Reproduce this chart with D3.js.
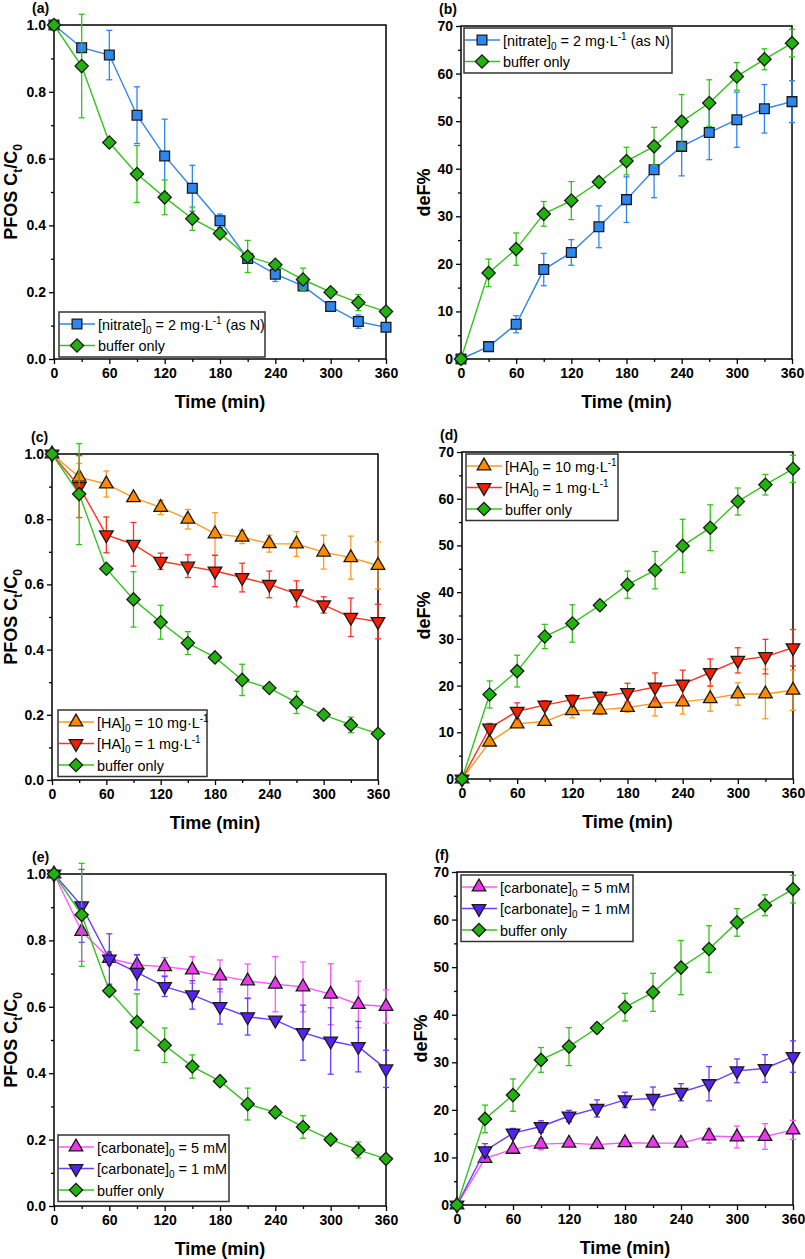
<!DOCTYPE html>
<html>
<head>
<meta charset="utf-8">
<script src="https://cdn.jsdelivr.net/npm/d3@7"></script>
<style>
  body { margin: 0; background: #fff; }
  svg { display: block; font-family: "Liberation Sans", Arial, sans-serif; }
  .tick text { font-weight: bold; font-size: 14px; }
</style>
</head>
<body>
<svg id="fig" width="805" height="1259"></svg>
<script>
// sampling times (min)
var times = [0, 30, 60, 90, 120, 150, 180, 210, 240, 270, 300, 330, 360];
var timeTicks = [0, 60, 120, 180, 240, 300, 360];
var ctTicks = [0, 0.2, 0.4, 0.6, 0.8, 1.0];
var defTicks = [0, 10, 20, 30, 40, 50, 60, 70];

// PFOS Ct/C0
var bufferCt = [1.0, 0.877, 0.648, 0.554, 0.484, 0.420, 0.376, 0.307, 0.282, 0.238, 0.200, 0.169, 0.142];
var bufferCtErr = [0, 0.155, 0.01, 0.085, 0.052, 0.035, 0.01, 0.048, 0.01, 0.034, 0.006, 0.024, 0.006];
var nitrateCt = [1.0, 0.932, 0.910, 0.730, 0.608, 0.511, 0.414, 0.301, 0.254, 0.219, 0.157, 0.112, 0.095];
var nitrateCtErr = [0, 0.01, 0.074, 0.085, 0.11, 0.069, 0.02, 0.01, 0.022, 0.015, 0.006, 0.02, 0.01];
var ha10Ct = [1.0, 0.929, 0.908, 0.866, 0.836, 0.800, 0.755, 0.745, 0.725, 0.724, 0.699, 0.682, 0.658];
var ha10CtErr = [0, 0.042, 0.04, 0.01, 0.022, 0.03, 0.065, 0.02, 0.026, 0.038, 0.052, 0.066, 0.072];
var ha1Ct = [1.0, 0.900, 0.752, 0.723, 0.671, 0.656, 0.641, 0.621, 0.600, 0.571, 0.537, 0.499, 0.486];
var ha1CtErr = [0, 0.095, 0.055, 0.067, 0.025, 0.035, 0.048, 0.044, 0.041, 0.04, 0.025, 0.059, 0.053];
var carb5Ct = [1.0, 0.827, 0.746, 0.726, 0.721, 0.711, 0.693, 0.678, 0.668, 0.660, 0.638, 0.607, 0.601];
var carb5CtErr = [0, 0.09, 0.02, 0.03, 0.027, 0.04, 0.048, 0.051, 0.083, 0.075, 0.092, 0.07, 0.05];
var carb1Ct = [1.0, 0.904, 0.744, 0.704, 0.661, 0.636, 0.601, 0.570, 0.560, 0.522, 0.497, 0.480, 0.413];
var carb1CtErr = [0, 0.11, 0.076, 0.053, 0.03, 0.043, 0.053, 0.055, 0.01, 0.083, 0.1, 0.076, 0.056];

// deF%
var bufferDeF = [0, 18.1, 23.1, 30.5, 33.3, 37.2, 41.6, 44.7, 49.9, 53.8, 59.4, 63.0, 66.4];
var bufferDeFErr = [0, 2.9, 3.4, 2.6, 4.0, 1.0, 2.9, 4.0, 5.7, 4.9, 2.9, 2.2, 2.9];
var nitrateDeF = [0, 2.6, 7.3, 18.8, 22.4, 27.8, 33.5, 39.8, 44.7, 47.6, 50.3, 52.6, 54.1];
var nitrateDeFErr = [0, 0.3, 1.8, 3.4, 2.7, 4.4, 4.8, 5.9, 6.2, 5.7, 5.8, 5.1, 4.4];
var ha10DeF = [0, 7.9, 11.8, 12.3, 14.6, 14.8, 15.3, 16.2, 16.5, 17.2, 18.2, 18.2, 19.0];
var ha10DeFErr = [0, 0.5, 0.7, 0.6, 1.5, 1.0, 1.0, 2.7, 2.6, 2.7, 2.4, 5.3, 4.3];
var ha1DeF = [0, 10.9, 14.5, 15.8, 17.0, 17.7, 18.5, 19.7, 20.3, 22.8, 25.4, 26.2, 28.1];
var ha1DeFErr = [0, 1.0, 1.8, 1.0, 1.0, 1.0, 2.0, 3.0, 3.0, 2.9, 2.7, 3.7, 3.9];
var carb5DeF = [0, 9.8, 11.7, 12.8, 13.0, 12.7, 13.1, 13.0, 13.0, 14.5, 14.3, 14.4, 15.8];
var carb5DeFErr = [0, 0.5, 0.6, 1.2, 0.6, 0.6, 0.6, 0.6, 0.6, 1.5, 2.3, 2.7, 2.0];
var carb1DeF = [0, 11.4, 15.1, 16.5, 18.7, 20.3, 22.1, 22.4, 23.7, 25.5, 28.2, 28.7, 31.2];
var carb1DeFErr = [0, 1.5, 1.0, 1.2, 1.2, 1.8, 1.6, 2.4, 1.8, 3.6, 2.5, 2.9, 3.3];

// legend labels
var nitrateLabel = ["[nitrate]", "0", " = 2 mg\u00b7L", "-1", " (as N)"];
var ha10Label = ["[HA]", "0", " = 10 mg\u00b7L", "-1"];
var ha1Label = ["[HA]", "0", " = 1 mg\u00b7L", "-1"];
var carb5Label = ["[carbonate]", "0", " = 5 mM"];
var carb1Label = ["[carbonate]", "0", " = 1 mM"];
var bufferLabel = ["buffer only"];

var styles = {
    nitrate: { line: "#2f86ee", fill: "#2f86ee", shape: "square" },
    buffer: { line: "#33c41a", fill: "#22b20f", shape: "diamond" },
    ha10: { line: "#ff9a1f", fill: "#ff8a00", shape: "up" },
    ha1: { line: "#ff3322", fill: "#ee2200", shape: "down" },
    carb5: { line: "#ff55ff", fill: "#e83ae8", shape: "up" },
    carb1: { line: "#6a3cff", fill: "#5522ee", shape: "down" }
};

var svg = d3.select("#fig");

function symbolPath(shape) {
    if (shape == "square") return d3.symbol().type(d3.symbolSquare).size(95)();
    if (shape == "diamond") return d3.symbol().type(d3.symbolSquare).size(88)();
    return d3.symbol().type(d3.symbolTriangle).size(80)();
}
function symbolRotate(shape) {
    if (shape == "diamond") return 45;
    if (shape == "down") return 180;
    return 0;
}

function drawPanel(p) {
    var x = d3.scaleLinear().domain([0, 360]).range([p.left, p.right]);
    var y = d3.scaleLinear().domain(p.yDomain).range([p.bottom, p.top]);

    // minor ticks
    var xMinor = d3.range(30, 360, 60);
    var yMinor = p.minor;
    var g = svg.append("g");

    g.append("g")
        .attr("transform", "translate(0," + p.bottom + ")")
        .call(d3.axisBottom(x).tickValues(timeTicks).tickSize(5).tickPadding(4))
        .call(function (a) { a.select(".domain").remove(); });
    g.append("g")
        .attr("transform", "translate(0," + p.bottom + ")")
        .call(d3.axisBottom(x).tickValues(xMinor).tickSize(3).tickFormat(""))
        .call(function (a) { a.select(".domain").remove(); });
    g.append("g")
        .attr("transform", "translate(" + p.left + ",0)")
        .call(d3.axisLeft(y).tickValues(p.ticks).tickSize(5).tickPadding(3).tickFormat(p.fmt))
        .call(function (a) { a.select(".domain").remove(); });
    g.append("g")
        .attr("transform", "translate(" + p.left + ",0)")
        .call(d3.axisLeft(y).tickValues(yMinor).tickSize(3).tickFormat(""))
        .call(function (a) { a.select(".domain").remove(); });
    g.selectAll(".tick line").attr("stroke", "#000").attr("stroke-width", 1.3);
    g.selectAll(".tick text").attr("fill", "#000");

    // frame
    g.append("rect")
        .attr("x", p.left).attr("y", p.top)
        .attr("width", p.right - p.left).attr("height", p.bottom - p.top)
        .attr("fill", "none").attr("stroke", "#000").attr("stroke-width", 1.5);

    // series
    p.series.forEach(function (s) {
        var st = styles[s.key];
        var pts = times.map(function (t, i) { return { t: t, v: s.values[i], e: s.err[i] }; });
        var sg = g.append("g");
        pts.forEach(function (d) {
            if (d.e <= 0) return;
            var y1 = y(d.v + d.e), y2 = y(d.v - d.e);
            sg.append("line").attr("x1", x(d.t)).attr("x2", x(d.t)).attr("y1", y1).attr("y2", y2)
                .attr("stroke", st.line).attr("stroke-width", 1.3);
            [y1, y2].forEach(function (yy) {
                sg.append("line").attr("x1", x(d.t) - 3).attr("x2", x(d.t) + 3).attr("y1", yy).attr("y2", yy)
                    .attr("stroke", st.line).attr("stroke-width", 1.3);
            });
        });
        sg.append("path").datum(pts)
            .attr("fill", "none").attr("stroke", st.line).attr("stroke-width", 1.4)
            .attr("d", d3.line().x(function (d) { return x(d.t); }).y(function (d) { return y(d.v); }));
        sg.selectAll(".pt").data(pts).enter().append("path")
            .attr("d", symbolPath(st.shape))
            .attr("transform", function (d) {
                return "translate(" + x(d.t) + "," + y(d.v) + ") rotate(" + symbolRotate(st.shape) + ")";
            })
            .attr("fill", st.fill).attr("stroke", "#1a1a1a").attr("stroke-width", 1.3);
    });

    // axis titles
    g.append("text")
        .attr("x", (p.left + p.right) / 2).attr("y", p.bottom + 49)
        .attr("text-anchor", "middle").attr("font-weight", "bold").attr("font-size", 18)
        .text("Time (min)");
    var yt = g.append("text")
        .attr("transform", "translate(" + p.yTitleX + "," + (p.top + p.bottom) / 2 + ") rotate(-90)")
        .attr("text-anchor", "middle").attr("font-weight", "bold").attr("font-size", 18);
    p.yTitle.forEach(function (part, i) {
        var ts = yt.append("tspan").text(part);
        if (i % 2 == 1) ts.attr("font-size", 12).attr("dy", 5);
        else if (i > 0) ts.attr("dy", -5);
    });

    // panel label
    g.append("text").attr("x", p.labelX).attr("y", p.top - 12)
        .attr("font-weight", "bold").attr("font-size", 14).text(p.label);

    // legend
    var lg = p.legend;
    var rowH = 21.5;
    var boxH = rowH * p.series.length + 2;
    g.append("rect").attr("x", lg.x).attr("y", lg.y).attr("width", lg.w).attr("height", boxH)
        .attr("fill", "#fff").attr("stroke", "#333").attr("stroke-width", 1.5);
    lg.order.forEach(function (idx, r) {
        var s = p.series[idx];
        var st = styles[s.key];
        var cy = lg.y + 12 + r * rowH;
        g.append("line").attr("x1", lg.x + 1).attr("x2", lg.x + 36).attr("y1", cy).attr("y2", cy)
            .attr("stroke", st.line).attr("stroke-width", 1.4);
        g.append("path").attr("d", symbolPath(st.shape))
            .attr("transform", "translate(" + (lg.x + 18) + "," + cy + ") rotate(" + symbolRotate(st.shape) + ")")
            .attr("fill", st.fill).attr("stroke", "#1a1a1a").attr("stroke-width", 1.3);
        var tx = g.append("text").attr("x", lg.x + 39).attr("y", cy + 5.5).attr("font-size", 14.4);
        s.label.forEach(function (part, i) {
            var ts = tx.append("tspan").text(part);
            if (i == 1) ts.attr("font-size", 10).attr("dy", 4);
            else if (i == 2) ts.attr("dy", -4);
            else if (i == 3) ts.attr("font-size", 10).attr("dy", -6);
            else if (i == 4) ts.attr("dy", 6);
        });
    });
}

var ctTitle = ["PFOS C", "t", "/C", "0"];
var defTitle = ["deF%"];
var fmtCt = d3.format(".1f");
var fmtDef = d3.format("d");
var ctMinor = [0.1, 0.3, 0.5, 0.7, 0.9];
var defMinor = [5, 15, 25, 35, 45, 55, 65];

drawPanel({
    label: "(a)", labelX: 32, left: 54, right: 386, top: 25, bottom: 359,
    yDomain: [0, 1], ticks: ctTicks, minor: ctMinor, fmt: fmtCt, yTitle: ctTitle, yTitleX: 17,
    series: [
        { key: "nitrate", values: nitrateCt, err: nitrateCtErr, label: nitrateLabel },
        { key: "buffer", values: bufferCt, err: bufferCtErr, label: bufferLabel }
    ],
    legend: { x: 59, y: 312, w: 206, order: [0, 1] }
});
drawPanel({
    label: "(b)", labelX: 439, left: 461, right: 792, top: 26, bottom: 359,
    yDomain: [0, 70], ticks: defTicks, minor: defMinor, fmt: fmtDef, yTitle: defTitle, yTitleX: 430,
    series: [
        { key: "nitrate", values: nitrateDeF, err: nitrateDeFErr, label: nitrateLabel },
        { key: "buffer", values: bufferDeF, err: bufferDeFErr, label: bufferLabel }
    ],
    legend: { x: 464, y: 28, w: 208, order: [0, 1] }
});
drawPanel({
    label: "(c)", labelX: 31, left: 52, right: 378, top: 454, bottom: 780,
    yDomain: [0, 1], ticks: ctTicks, minor: ctMinor, fmt: fmtCt, yTitle: ctTitle, yTitleX: 17,
    series: [
        { key: "ha10", values: ha10Ct, err: ha10CtErr, label: ha10Label },
        { key: "ha1", values: ha1Ct, err: ha1CtErr, label: ha1Label },
        { key: "buffer", values: bufferCt, err: bufferCtErr, label: bufferLabel }
    ],
    legend: { x: 58, y: 710, w: 149, order: [0, 1, 2] }
});
drawPanel({
    label: "(d)", labelX: 440, left: 462, right: 793, top: 452, bottom: 779,
    yDomain: [0, 70], ticks: defTicks, minor: defMinor, fmt: fmtDef, yTitle: defTitle, yTitleX: 430,
    series: [
        { key: "ha10", values: ha10DeF, err: ha10DeFErr, label: ha10Label },
        { key: "ha1", values: ha1DeF, err: ha1DeFErr, label: ha1Label },
        { key: "buffer", values: bufferDeF, err: bufferDeFErr, label: bufferLabel }
    ],
    legend: { x: 466, y: 454, w: 152, order: [0, 1, 2] }
});
drawPanel({
    label: "(e)", labelX: 32, left: 54, right: 386, top: 874, bottom: 1206,
    yDomain: [0, 1], ticks: ctTicks, minor: ctMinor, fmt: fmtCt, yTitle: ctTitle, yTitleX: 17,
    series: [
        { key: "carb5", values: carb5Ct, err: carb5CtErr, label: carb5Label },
        { key: "carb1", values: carb1Ct, err: carb1CtErr, label: carb1Label },
        { key: "buffer", values: bufferCt, err: bufferCtErr, label: bufferLabel }
    ],
    legend: { x: 58, y: 1135, w: 171, order: [0, 1, 2] }
});
drawPanel({
    label: "(f)", labelX: 435, left: 457, right: 793, top: 872, bottom: 1205,
    yDomain: [0, 70], ticks: defTicks, minor: defMinor, fmt: fmtDef, yTitle: defTitle, yTitleX: 427,
    series: [
        { key: "carb5", values: carb5DeF, err: carb5DeFErr, label: carb5Label },
        { key: "carb1", values: carb1DeF, err: carb1DeFErr, label: carb1Label },
        { key: "buffer", values: bufferDeF, err: bufferDeFErr, label: bufferLabel }
    ],
    legend: { x: 461, y: 875, w: 172, order: [0, 1, 2] }
});
</script>
</body>
</html>
